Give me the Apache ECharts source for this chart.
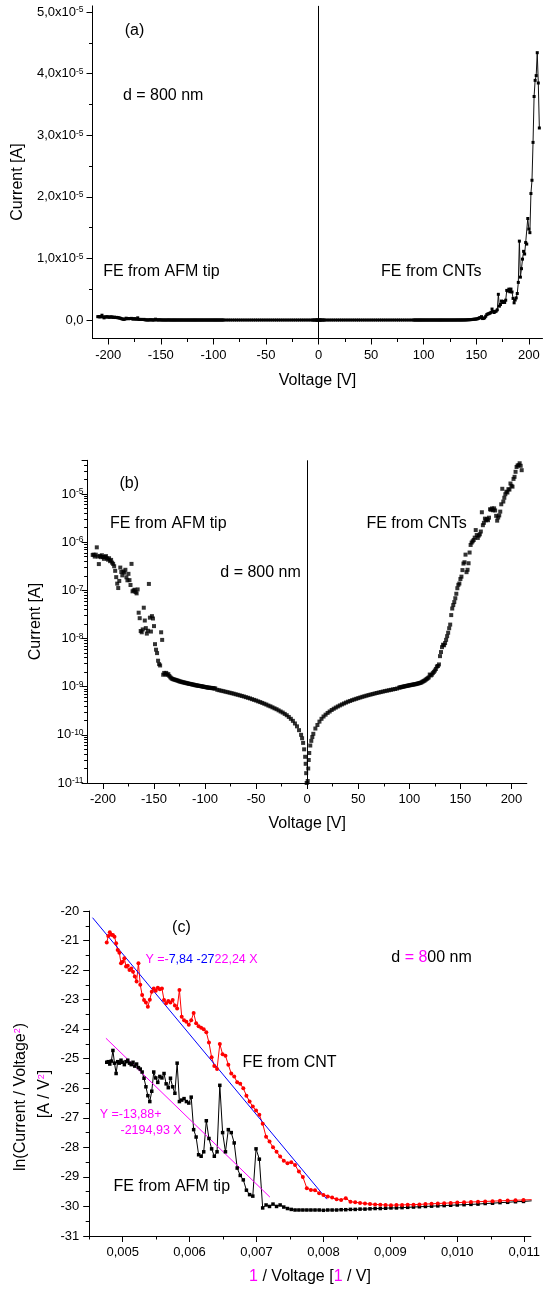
<!DOCTYPE html>
<html>
<head>
<meta charset="utf-8">
<script src="https://cdn.jsdelivr.net/npm/echarts@6/dist/echarts.min.js"></script>
<style>
html,body{margin:0;padding:0;background:#fff;}
#chart{width:543px;height:1292px;}
</style>
</head>
<body>
<div id="chart"></div>
<script>
// ---------------- DATA ----------------
// Low-voltage part: [|V| (V), current in units of 1e-10 A]
const cntLow = [[0.5,0.11],[1,0.2],[1.5,0.3],[2,0.42],[3,0.6],[4,0.75],[5,0.9],[6,1.05],[8,1.35],[10,1.6],[12,1.88],[14,2.15],[16,2.4],[18,2.62],[20,2.85],[22,3.05],[24,3.28],[26,3.48],[28,3.68],[30,3.88],[32,4.08],[34,4.28],[36,4.48],[38,4.68],[40,4.88],[42,5.05],[44,5.25],[46,5.42],[48,5.6],[50,5.78],[52,5.96],[54,6.15],[56,6.32],[58,6.5],[60,6.68],[62,6.85],[64,7.02],[66,7.2],[68,7.38],[70,7.55],[72,7.72],[74,7.9],[76,8.08],[78,8.25],[80,8.42],[82,8.6],[84,8.78],[86,8.95],[88,9.15]];
const tipLow = [[0.5,0.1],[1,0.16],[1.5,0.25],[2,0.35],[3,0.5],[4,0.68],[5,0.85],[6,1.0],[8,1.25],[10,1.5],[12,1.72],[14,1.95],[16,2.15],[18,2.35],[20,2.55],[22,2.72],[24,2.9],[26,3.05],[28,3.22],[30,3.4],[32,3.55],[34,3.72],[36,3.9],[38,4.05],[40,4.25],[42,4.42],[44,4.6],[46,4.78],[48,4.95],[50,5.15],[52,5.32],[54,5.5],[56,5.7],[58,5.88],[60,6.05],[62,6.25],[64,6.42],[66,6.6],[68,6.78],[70,6.95],[72,7.15],[74,7.32],[76,7.5],[78,7.68],[80,7.85],[82,8.05],[84,8.22],[86,8.42],[88,8.6]];

// High-voltage part: [|V| (V), ln(Current / Voltage^2)]
const cntFN = [[210,-21.07],[209,-20.85],[208,-20.72],[207,-20.8],[206,-20.81],[205,-20.87],[204,-21.09],[203,-21.32],[202,-21.41],[201,-21.77],[200,-21.72],[199,-21.6],[198,-21.88],[197,-21.85],[196,-22.0],[195,-21.95],[194,-22.06],[193,-22.22],[192,-22.39],[191,-21.77],[190,-22.5],[189,-22.84],[188,-23.01],[187,-23.1],[186,-23.24],[185,-23.0],[184,-22.73],[183,-22.62],[182,-22.7],[181,-22.6],[180,-22.65],[179,-22.62],[178,-23.01],[177,-23.12],[176,-23.05],[175,-23.1],[174,-23.01],[173,-23.2],[172,-23.3],[171,-22.67],[170,-23.58],[169,-23.7],[168,-23.75],[167,-23.85],[166,-23.7],[165,-23.45],[164,-23.8],[163,-23.9],[162,-23.95],[161,-24.0],[160,-24.1],[159,-24.45],[158,-24.95],[157,-25.25],[156,-25.35],[155,-24.5],[154,-24.85],[153,-24.9],[152,-25.2],[151,-25.5],[150,-25.6],[149,-25.8],[148,-25.85],[147,-26.0],[146,-26.25],[145,-26.45],[144,-26.62],[143,-26.75],[142,-26.9],[141,-27.2],[140,-27.64],[139,-27.8],[138,-28.0],[137,-28.15],[136,-28.31],[135,-28.45],[134,-28.54],[133,-28.5],[132,-28.6],[131,-28.82],[130,-29.0],[129,-29.38],[128,-29.44],[127,-29.45],[126,-29.55],[125,-29.61],[124,-29.66],[123,-29.7],[122,-29.76],[121,-29.78],[120,-29.72],[119,-29.84],[118,-29.86],[117,-29.88],[116,-29.9],[115,-29.92],[114,-29.93],[113,-29.94],[112,-29.95],[111,-29.96],[110,-29.95],[109,-29.95],[108,-29.94],[107,-29.94],[106,-29.93],[105,-29.92],[104,-29.91],[103,-29.9],[102,-29.89],[101,-29.88],[100,-29.87],[99,-29.86],[98,-29.85],[97,-29.84],[96,-29.83],[95,-29.82],[94,-29.81],[93,-29.8],[92,-29.79],[91,-29.78],[90,-29.77]];
const tipFN = [[210,-25.12],[209,-25.1],[208,-25.18],[207,-25.08],[206,-24.72],[205,-25.15],[204,-25.5],[203,-25.1],[202,-25.15],[201,-25.05],[200,-25.12],[199,-25.2],[198,-25.1],[197,-25.05],[196,-25.15],[195,-25.2],[194,-25.12],[193,-25.25],[192,-25.18],[191,-25.3],[190,-25.35],[189,-25.45],[188,-25.66],[187,-25.95],[186,-26.25],[185,-26.45],[184,-26.1],[183,-25.45],[182,-25.65],[181,-25.8],[180,-25.6],[179,-25.65],[178,-25.5],[177,-25.85],[176,-25.98],[175,-25.66],[174,-25.95],[173,-26.17],[172,-25.15],[171,-26.45],[170,-26.4],[169,-26.35],[168,-26.45],[167,-26.5],[166,-26.3],[165,-27.4],[164,-27.65],[163,-28.25],[162,-28.3],[161,-28.15],[160,-27.1],[159,-27.7],[158,-28.05],[157,-28.3],[156,-28.15],[155,-25.9],[154,-27.5],[153,-28.15],[152,-27.4],[151,-27.5],[150,-27.85],[149,-28.7],[148,-28.95],[147,-29.1],[146,-29.45],[145,-29.6],[144,-29.65],[143,-28.05],[142,-28.4],[141,-30.05],[140,-29.95],[139,-30.0],[138,-29.92],[137,-30.0],[136,-29.95],[135,-30.02],[134,-30.07],[133,-30.1],[132,-30.12],[131,-30.12],[130,-30.12],[129,-30.12],[128,-30.12],[127,-30.12],[126,-30.12],[125,-30.13],[124,-30.12],[123,-30.12],[122,-30.12],[121,-30.11],[120,-30.11],[119,-30.1],[118,-30.1],[117,-30.09],[116,-30.09],[115,-30.08],[114,-30.07],[113,-30.07],[112,-30.06],[111,-30.05],[110,-30.05],[109,-30.04],[108,-30.03],[107,-30.02],[106,-30.01],[105,-30.0],[104,-29.99],[103,-29.98],[102,-29.97],[101,-29.96],[100,-29.95],[99,-29.94],[98,-29.93],[97,-29.92],[96,-29.9],[95,-29.89],[94,-29.87],[93,-29.86],[92,-29.84],[91,-29.83],[90,-29.81]];

// Linear fits shown in panel (c): Y = a + b X, drawn over [from, to]
const fitCNT = {a: -7.84, b: -2722.24, from: 0.00455, to: 0.00805};
const fitTip = {a: -13.88, b: -2194.93, from: 0.00475, to: 0.0072};

// Tick values
const vTicks = [-200,-150,-100,-50,0,50,100,150,200];
const vMinor = [-175,-125,-75,-25,25,75,125,175];
const aTicks = [0,1e-5,2e-5,3e-5,4e-5,5e-5];
const aMinor = [0.5e-5,1.5e-5,2.5e-5,3.5e-5,4.5e-5];
const bDecades = [-11,-10,-9,-8,-7,-6,-5];
const cXTicks = [0.005,0.006,0.007,0.008,0.009,0.010,0.011];
const cXMinor = [0.0045,0.0055,0.0065,0.0075,0.0085,0.0095,0.0105];
const cYTicks = [-20,-21,-22,-23,-24,-25,-26,-27,-28,-29,-30,-31];
const cYMinor = [-20.5,-21.5,-22.5,-23.5,-24.5,-25.5,-26.5,-27.5,-28.5,-29.5,-30.5];

// ---------------- BUILD ----------------
const FONT = '"Liberation Sans", Arial, sans-serif';
const MAG = '#ff00ff', BLUE = '#0000ff', RED = '#ff0000';
const toI = (v, ln) => v * v * Math.exp(ln);
const cntAll = cntLow.map(([v, i]) => [v, i * 1e-10]).concat(cntFN.map(([v, l]) => [v, toI(v, l)])).sort((p, q) => p[0] - q[0]);
const tipAll = tipLow.map(([v, i]) => [-v, i * 1e-10]).concat(tipFN.map(([v, l]) => [-v, toI(v, l)])).sort((p, q) => p[0] - q[0]);
const ivAll = tipAll.concat(cntAll);
const cntC = cntFN.map(([v, l]) => [1 / v, l]).sort((p, q) => p[0] - q[0]);
const tipC = tipFN.map(([v, l]) => [1 / v, l]).sort((p, q) => p[0] - q[0]);
const fitLine = f => [[f.from, f.a + f.b * f.from], [f.to, f.a + f.b * f.to]];
const bTop = Math.log10(5e-5);
const bMinor = [];
bDecades.forEach(d => { for (let k = 2; k <= 9; k++) { const v = Math.log10(k) + d; if (v <= bTop) bMinor.push(v); } });

const black = '#000';
const TICKFS = 13, TXTFS = 16;
const lab = {fontFamily: FONT, fontSize: TICKFS, color: black};
const supRich = {b: {fontFamily: FONT, fontSize: TICKFS, color: black}, s: {fontFamily: FONT, fontSize: 8.5, color: black, verticalAlign: 'top'}};
const nameStyle = {fontFamily: FONT, fontSize: TXTFS, color: black};

function mainAxis(extra) {
  return Object.assign({
    type: 'value',
    axisLine: {show: true, onZero: false, lineStyle: {color: black, width: 1}},
    axisTick: {show: true, length: 6, lineStyle: {color: black, width: 1}},
    splitLine: {show: false},
    nameLocation: 'middle',
    nameTextStyle: nameStyle
  }, extra);
}
function minorAxis(extra, vals) {
  return Object.assign({
    type: 'value',
    axisLine: {show: false, onZero: false},
    axisLabel: {show: false},
    splitLine: {show: false},
    axisTick: {show: true, length: 3.5, customValues: vals, lineStyle: {color: black, width: 1}}
  }, extra);
}

const zeroLine = {
  silent: true, symbol: ['none', 'none'], label: {show: false},
  lineStyle: {color: black, width: 1, type: 'solid'}, data: [{xAxis: 0}]
};

const option = {
  animation: false,
  backgroundColor: '#fff',
  grid: [
    {left: 92.5, top: 5.9, width: 450, height: 332.6},
    {left: 87.6, top: 460.3, width: 439.2, height: 322.7},
    {left: 89.2, top: 911, width: 445.4, height: 325}
  ],
  xAxis: [
    mainAxis({gridIndex: 0, position: 'bottom', min: -215, max: 213, name: 'Voltage [V]', nameGap: 34,
      axisTick: {show: true, length: 6, customValues: vTicks, lineStyle: {color: black}},
      axisLabel: Object.assign({customValues: vTicks, margin: 10}, lab)}),
    minorAxis({gridIndex: 0, position: 'bottom', min: -215, max: 213}, vMinor),
    mainAxis({gridIndex: 1, position: 'bottom', min: -215, max: 215, name: 'Voltage [V]', nameGap: 33,
      axisTick: {show: true, length: 6, customValues: vTicks, lineStyle: {color: black}},
      axisLabel: Object.assign({customValues: vTicks, margin: 10}, lab)}),
    minorAxis({gridIndex: 1, position: 'bottom', min: -215, max: 215}, vMinor),
    mainAxis({gridIndex: 2, position: 'bottom', min: 0.0045, max: 0.0111,
      name: '{m|1} / Voltage [{m|1} / V]', nameGap: 33,
      nameTextStyle: Object.assign({rich: {m: {fontFamily: FONT, fontSize: TXTFS, color: MAG}}}, nameStyle),
      axisTick: {show: true, length: 6, customValues: cXTicks, lineStyle: {color: black}},
      axisLabel: Object.assign({customValues: cXTicks, margin: 10, formatter: v => v.toFixed(3).replace('.', ',')}, lab)}),
    minorAxis({gridIndex: 2, position: 'bottom', min: 0.0045, max: 0.0111}, cXMinor)
  ],
  yAxis: [
    mainAxis({gridIndex: 0, position: 'left', min: -0.3e-5, max: 5.1e-5,
      axisTick: {show: true, length: 6, customValues: aTicks, lineStyle: {color: black}},
      axisLabel: Object.assign({customValues: aTicks, margin: 9, rich: supRich,
        formatter: v => Math.abs(v) < 1e-12 ? '{b|0,0}' : '{b|' + (v * 1e5).toFixed(1).replace('.', ',') + 'x10}{s|-5}'}, lab)}),
    minorAxis({gridIndex: 0, position: 'left', min: -0.3e-5, max: 5.1e-5}, aMinor),
    mainAxis({gridIndex: 1, position: 'left', type: 'log', logBase: 10, min: 1e-11, max: 5e-5,
      axisLabel: Object.assign({margin: 4, rich: supRich,
        formatter: v => { const e = Math.log10(v); return Math.abs(e - Math.round(e)) > 0.01 ? '' : '{b|10}{s|' + Math.round(e) + '}'; }}, lab)}),
    minorAxis({gridIndex: 1, position: 'left', min: -11, max: bTop}, bMinor),
    mainAxis({gridIndex: 2, position: 'left', min: -31, max: -20,
      axisTick: {show: true, length: 6, customValues: cYTicks, lineStyle: {color: black}},
      axisLabel: Object.assign({customValues: cYTicks, margin: 10, formatter: v => String(Math.round(v))}, lab)}),
    minorAxis({gridIndex: 2, position: 'left', min: -31, max: -20}, cYMinor)
  ],
  series: [
    {type: 'line', xAxisIndex: 0, yAxisIndex: 0, data: ivAll, symbol: 'rect', symbolSize: 3,
      lineStyle: {color: '#111', width: 1}, itemStyle: {color: black}, markLine: zeroLine},
    {type: 'scatter', xAxisIndex: 2, yAxisIndex: 2, data: ivAll, symbol: 'rect', symbolSize: 4,
      itemStyle: {color: black}, markLine: zeroLine},
    {type: 'line', xAxisIndex: 4, yAxisIndex: 4, data: tipC, symbol: 'rect', symbolSize: 3.5,
      lineStyle: {color: black, width: 1}, itemStyle: {color: black}},
    {type: 'line', xAxisIndex: 4, yAxisIndex: 4, data: cntC, symbol: 'circle', symbolSize: 4,
      lineStyle: {color: RED, width: 1}, itemStyle: {color: RED}},
    {type: 'line', xAxisIndex: 4, yAxisIndex: 4, data: fitLine(fitCNT), symbol: 'none',
      lineStyle: {color: BLUE, width: 1}},
    {type: 'line', xAxisIndex: 4, yAxisIndex: 4, data: fitLine(fitTip), symbol: 'none',
      lineStyle: {color: MAG, width: 1}}
  ],
  graphic: []
};

function txt(x, y, text, size, rich) {
  return {type: 'text', x: x, y: y, silent: true,
    style: {text: text, fontFamily: FONT, fontSize: size, fill: black, verticalAlign: 'middle', rich: rich}};
}
function vtxt(x, y, text, size, rich) {
  return {type: 'text', x: x, y: y, rotation: Math.PI / 2, silent: true,
    style: {text: text, fontFamily: FONT, fontSize: size, fill: black, align: 'center', verticalAlign: 'middle', rich: rich}};
}
const magRich = {
  k: {fontFamily: FONT, fontSize: TXTFS, fill: black},
  m: {fontFamily: FONT, fontSize: TXTFS, fill: MAG},
  em: {fontFamily: FONT, fontSize: 12.5, fill: MAG},
  eb: {fontFamily: FONT, fontSize: 12.5, fill: BLUE}
};
const titleRich = {
  k: {fontFamily: FONT, fontSize: TXTFS, fill: black},
  s: {fontFamily: FONT, fontSize: 9, fill: MAG, verticalAlign: 'top'}
};
option.graphic = [
  vtxt(17.3, 182, 'Current [A]', TXTFS),
  vtxt(35.5, 621.5, 'Current [A]', TXTFS),
  vtxt(20.8, 1097, '{k|ln(Current / Voltage}{s|2}{k|)}', TXTFS, titleRich),
  vtxt(45, 1094, '{k|[A / V}{s|2}{k|]}', TXTFS, titleRich),
  txt(124.7, 31, '(a)', TXTFS),
  txt(122.9, 96, 'd = 800 nm', TXTFS),
  txt(103.2, 272, 'FE from AFM tip', TXTFS),
  txt(381, 272, 'FE from CNTs', TXTFS),
  txt(119.5, 483.5, '(b)', TXTFS),
  txt(110.1, 524, 'FE from AFM tip', TXTFS),
  txt(366.4, 524, 'FE from CNTs', TXTFS),
  txt(220.3, 572.5, 'd = 800 nm', TXTFS),
  txt(172.1, 927.5, '(c)', TXTFS),
  txt(145.4, 959.5, '{em|Y =-}{eb|7,84 -27}{em|22,24 X}', 12.5, magRich),
  txt(391.3, 958, '{k|d }{m|= 8}{k|00 nm}', TXTFS, magRich),
  txt(242.4, 1063, 'FE from CNT', TXTFS),
  txt(99.7, 1115, '{em|Y =-13,88+}', 12.5, magRich),
  txt(120.5, 1131, '{em|-2194,93 X}', 12.5, magRich),
  txt(113.6, 1187, 'FE from AFM tip', TXTFS)
];

const chart = echarts.init(document.getElementById('chart'), null, {renderer: 'canvas'});
chart.setOption(option);
</script>
</body>
</html>
